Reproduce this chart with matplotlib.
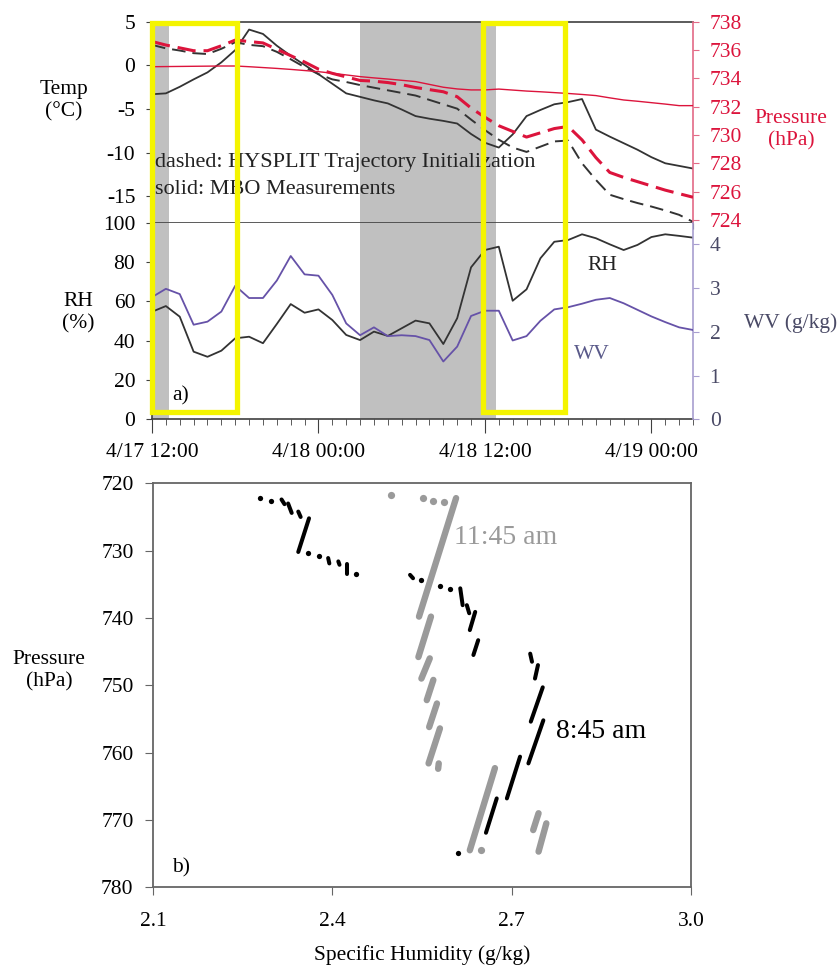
import matplotlib
matplotlib.use('Agg')
import matplotlib.pyplot as plt
from matplotlib.patches import Rectangle
from matplotlib.transforms import blended_transform_factory

plt.rcParams['font.family'] = ['Liberation Serif', 'DejaVu Serif']

# ---------------- data: panel a (hours since 4/17 12:00) ----------------
hours = list(range(40))
temp_mbo = [-3.3, -3.2, -2.45, -1.6, -0.8, 0.35, 1.75, 4.1, 3.6, 2.25, 1.1, 0.05, -1.0, -2.1,
            -3.2, -3.6, -4.0, -4.35, -5.05, -5.8, -6.1, -6.35, -6.65, -7.85, -8.85, -9.4, -7.9,
            -5.8, -5.1, -4.45, -4.2, -3.85, -7.35, -8.15, -8.9, -9.65, -10.5, -11.2, -11.5, -11.8]
temp_hys = [2.35, 1.95, 1.7, 1.4, 1.3, 1.9, 2.65, 2.35, 2.2, 1.55, 0.7, -0.2, -1.0, -1.6,
            -1.9, -2.25, -2.55, -2.85, -3.15, -3.45, -3.95, -4.45, -4.95, -6.2, -7.4, -8.5, -9.4,
            -9.9, -9.3, -8.7, -8.6, -11.2, -13.1, -14.8, -15.3, -15.75, -16.15, -16.6, -17.1, -17.9]
pres_mbo = [734.82, 734.83, 734.84, 734.85, 734.86, 734.87, 734.87, 734.82, 734.76, 734.70,
            734.63, 734.55, 734.47, 734.36, 734.24, 734.12, 734.03, 733.95, 733.86, 733.77,
            733.57, 733.37, 733.25, 733.18, 733.18, 733.24, 733.17, 733.10, 733.05, 732.99,
            732.93, 732.86, 732.78, 732.62, 732.47, 732.38, 732.28, 732.18, 732.07, 732.07]
pres_hys = [736.6, 736.35, 736.15, 735.95, 735.95, 736.3, 736.7, 736.6, 736.5, 736.05, 735.6,
            735.15, 734.65, 734.35, 734.1, 733.85, 733.8, 733.7, 733.55, 733.35, 733.2, 733.05,
            732.7, 731.9, 731.25, 730.65, 730.25, 729.85, 730.15, 730.45, 730.6, 729.65, 728.4,
            727.35, 727.0, 726.7, 726.4, 726.1, 725.85, 725.6]
rh = [54.7, 57.6, 52.2, 34.4, 31.8, 34.9, 41.2, 42.0, 38.7, 48.5, 58.6, 54.2, 55.9, 50.5, 42.9,
      40.3, 44.6, 42.4, 46.3, 50.2, 48.8, 38.3, 51.4, 77.3, 86.1, 87.8, 60.3, 66.1, 81.9, 90.3,
      91.2, 94.1, 92.1, 89.0, 86.1, 88.7, 92.7, 94.1, 93.3, 92.4]
wv = [2.79, 2.98, 2.86, 2.16, 2.23, 2.46, 3.05, 2.77, 2.77, 3.17, 3.73, 3.31, 3.28, 2.84, 2.19,
      1.92, 2.10, 1.90, 1.92, 1.90, 1.81, 1.32, 1.66, 2.36, 2.48, 2.48, 1.80, 1.90, 2.25, 2.51,
      2.56, 2.64, 2.73, 2.77, 2.65, 2.50, 2.35, 2.22, 2.10, 2.04]

time_tick_hours = [0, 12, 24, 36]
time_tick_labels = ['4/17 12:00', '4/18 00:00', '4/18 12:00', '4/19 00:00']
temp_ticks = [-15, -10, -5, 0, 5]
pres_ticks = [724, 726, 728, 730, 732, 734, 736, 738]
rh_ticks = [0, 20, 40, 60, 80, 100]
wv_ticks = [0, 1, 2, 3, 4]

shade_spans = [(0, 1.2), (15.0, 24.8)]
box_spans = [(0, 6.1), (23.83, 29.8)]

# ---------------- data: panel b (specific humidity g/kg, pressure hPa) ----------------
blk_q0 = [2.315, 2.326, 2.343, 2.361, 2.393, 2.410, 2.424, 2.530, 2.614, 2.625, 2.639, 2.644,
          2.731, 2.744, 2.752, 2.753, 2.714, 2.675]
blk_p0 = [722.4, 723.0, 724.2, 725.2, 731.1, 731.6, 732.0, 733.6, 735.6, 738.1, 739.1, 743.3,
          745.3, 747.0, 750.3, 755.2, 760.6, 766.8]
blk_q1 = [2.320, 2.332, 2.347, 2.343, 2.395, 2.412, 2.424, 2.535, 2.618, 2.629, 2.630, 2.636,
          2.734, 2.739, 2.732, 2.728, 2.692, 2.657]
blk_p1 = [723.1, 724.4, 725.0, 730.2, 731.9, 732.1, 733.4, 734.1, 738.1, 739.3, 741.8, 745.5,
          746.5, 749.0, 755.4, 761.6, 766.8, 771.9]
blk_dot_q = [2.279, 2.297, 2.360, 2.377, 2.440, 2.549, 2.580, 2.597, 2.611]
blk_dot_p = [722.2, 722.6, 730.4, 730.8, 733.5, 734.4, 735.2, 735.7, 774.9]

gry_q0 = [2.607, 2.565, 2.563, 2.569, 2.575, 2.580, 2.578, 2.672, 2.745, 2.758]
gry_p0 = [722.2, 739.8, 746.0, 749.2, 752.7, 756.4, 761.6, 762.3, 769.0, 770.5]
gry_q1 = [2.545, 2.544, 2.549, 2.558, 2.562, 2.561, 2.577, 2.630, 2.736, 2.745]
gry_p1 = [739.8, 745.8, 749.0, 752.2, 756.2, 761.6, 762.4, 774.5, 771.5, 774.7]
gry_dot_q = [2.498, 2.552, 2.569, 2.586, 2.649]
gry_dot_p = [721.8, 722.2, 722.6, 722.8, 774.5]

q_ticks = [2.1, 2.4, 2.7, 3.0]
p_ticks = [720, 730, 740, 750, 760, 770, 780]

# ---------------- styling ----------------
W, H = 840, 969
FS = 15.5
RED = '#DC143C'
PURPLE = '#6652A8'
DARK = '#333333'
SPINE = '#404040'
YELLOW = '#F4F400'
SHADE = '#C0C0C0'
GRAY = '#9A9A9A'


def fx(px):
    return px / W


def fy(py):
    return 1 - py / H


fig = plt.figure(figsize=(W / 100, H / 100), dpi=100)

x0, x1 = 152, 693
y_top, y_mid, y_bot = 21.7, 222.7, 419.3
ax_t = fig.add_axes([fx(x0), fy(y_mid), fx(x1) - fx(x0), fy(y_top) - fy(y_mid)])
ax_m = fig.add_axes([fx(x0), fy(y_bot), fx(x1) - fx(x0), fy(y_mid) - fy(y_bot)])
ax_tp = ax_t.twinx()
ax_mw = ax_m.twinx()

for ax in (ax_t, ax_m):
    ax.set_xlim(0, 39)
    for a, b in shade_spans:
        ax.axvspan(a, b, color=SHADE, lw=0, zorder=0)

# temperature
ax_t.plot(hours, temp_mbo, color=DARK, lw=1.3, zorder=3)
ax_t.plot(hours, temp_hys, color=DARK, lw=1.4, ls=(0, (7.0, 3.6)), zorder=3)
ax_t.set_ylim(-18, 5)
ax_t.set_yticks(temp_ticks)
ax_t.set_yticklabels([str(t) for t in temp_ticks])
# pressure
ax_tp.plot(hours, pres_hys, color=RED, lw=2.2, ls=(0, (6.0, 2.6)), zorder=3)
ax_tp.plot(hours, pres_mbo, color=RED, lw=1.0, zorder=3)
ax_tp.set_ylim(723.8, 738)
ax_tp.set_yticks(pres_ticks)
ax_tp.set_xlim(0, 39)

# RH / WV
ax_m.plot(hours, rh, color=DARK, lw=1.3, zorder=3)
ax_m.set_ylim(0, 100)
ax_m.set_yticks(rh_ticks)
ax_mw.plot(hours, wv, color=PURPLE, lw=1.3, zorder=3)
ax_mw.set_ylim(0, 4.49)
ax_mw.set_yticks(wv_ticks)
ax_mw.set_xlim(0, 39)

# spines
for ax in (ax_t, ax_tp, ax_m, ax_mw):
    for s in ax.spines.values():
        s.set_visible(False)
ax_t.spines['top'].set_visible(True)
ax_t.spines['bottom'].set_visible(True)
ax_t.spines['left'].set_visible(True)
ax_tp.spines['right'].set_visible(True)
ax_tp.spines['right'].set_color('#E36A86')
ax_m.spines['left'].set_visible(True)
ax_m.spines['bottom'].set_visible(True)
ax_mw.spines['right'].set_visible(True)
ax_mw.spines['right'].set_color('#A89ED0')
for ax, names in ((ax_t, ('top', 'bottom', 'left')), (ax_m, ('left', 'bottom'))):
    for n in names:
        ax.spines[n].set_color(SPINE)
        ax.spines[n].set_linewidth(1.2)
ax_tp.spines['right'].set_linewidth(1.2)
ax_mw.spines['right'].set_linewidth(1.2)

# ticks
ax_t.set_xticks(hours)
ax_t.tick_params(axis='x', direction='out', length=4, color=SPINE, labelbottom=False)
ax_t.tick_params(axis='y', direction='out', length=4, color=SPINE, labelsize=FS, pad=8)
ax_tp.tick_params(axis='y', direction='out', length=4, color='#E36A86', labelcolor=RED,
                  labelsize=FS, pad=8)
ax_m.set_xticks(time_tick_hours)
ax_m.set_xticklabels(time_tick_labels)
ax_m.set_xticks(hours, minor=True)
ax_m.tick_params(axis='x', which='major', direction='out', length=10, color=SPINE,
                 labelsize=FS, pad=7)
ax_m.tick_params(axis='x', which='minor', direction='out', length=4, color=SPINE)
ax_m.tick_params(axis='y', direction='out', length=4, color=SPINE, labelsize=FS, pad=8)
ax_mw.tick_params(axis='y', direction='out', length=4, color='#A89ED0', labelcolor='#4A4A66',
                  labelsize=FS, pad=8)

# yellow boxes spanning panels a (top and middle)
trans = blended_transform_factory(ax_t.transData, fig.transFigure)
for a, b in box_spans:
    r = Rectangle((a, fy(411.5)), b - a, fy(22.5) - fy(411.5), transform=trans, fill=False,
                  edgecolor=YELLOW, lw=3.8, zorder=20, clip_on=False)
    fig.add_artist(r)

# panel a texts
fig.text(fx(64), fy(101), 'Temp\n(°C)', ha='center', va='center', fontsize=FS, linespacing=1.2)
fig.text(fx(791), fy(130), 'Pressure\n(hPa)', ha='center', va='center', fontsize=FS,
         color=RED, linespacing=1.2)
fig.text(fx(78), fy(313), 'RH\n(%)', ha='center', va='center', fontsize=FS, linespacing=1.2)
fig.text(fx(791), fy(323), 'WV (g/kg)', ha='center', va='center', fontsize=FS, color='#4A4A66')
fig.text(fx(155), fy(163), 'dashed: HYSPLIT Trajectory Initialization', ha='left', va='center',
         fontsize=16, color='#222222')
fig.text(fx(155), fy(190), 'solid: MBO Measurements', ha='left', va='center', fontsize=16,
         color='#222222')
fig.text(fx(602), fy(265), 'RH', ha='center', va='center', fontsize=FS, color='#222222')
fig.text(fx(592), fy(355), 'WV', ha='center', va='center', fontsize=FS, color='#5A5A8A')
fig.text(fx(181), fy(396), 'a)', ha='center', va='center', fontsize=FS)

# ---------------- panel b ----------------
bx0, bx1, by0, by1 = 153, 691, 483.3, 887.3
ax_b = fig.add_axes([fx(bx0), fy(by1), fx(bx1) - fx(bx0), fy(by0) - fy(by1)])
ax_b.set_xlim(2.1, 3.0)
ax_b.set_ylim(780, 720)
for q0, p0, q1, p1 in zip(gry_q0, gry_p0, gry_q1, gry_p1):
    ax_b.plot([q0, q1], [p0, p1], color=GRAY, lw=4.6, solid_capstyle='round', zorder=2)
ax_b.plot(gry_dot_q, gry_dot_p, 'o', color=GRAY, ms=5.2, mew=0, zorder=2)
for q0, p0, q1, p1 in zip(blk_q0, blk_p0, blk_q1, blk_p1):
    ax_b.plot([q0, q1], [p0, p1], color='black', lw=2.9, solid_capstyle='round', zorder=3)
ax_b.plot(blk_dot_q, blk_dot_p, 'o', color='black', ms=3.8, mew=0, zorder=3)

ax_b.set_xticks(q_ticks)
ax_b.set_xticklabels(['%.1f' % q for q in q_ticks])
ax_b.set_yticks(p_ticks)
for s in ax_b.spines.values():
    s.set_color('#666666')
    s.set_linewidth(1.3)
ax_b.tick_params(axis='x', direction='out', length=6, color='#666666', labelsize=FS, pad=12)
ax_b.tick_params(axis='y', direction='out', length=6, color='#666666', labelsize=FS, pad=8)

fig.text(fx(506), fy(538), '11:45 am', ha='center', va='center', fontsize=20, color=GRAY)
fig.text(fx(601), fy(732), '8:45 am', ha='center', va='center', fontsize=20, color='black')
fig.text(fx(181), fy(868), 'b)', ha='center', va='center', fontsize=FS)
fig.text(fx(49), fy(671), 'Pressure\n(hPa)', ha='center', va='center', fontsize=FS,
         linespacing=1.2)
fig.text(fx(422), fy(955), 'Specific Humidity (g/kg)', ha='center', va='center', fontsize=FS)

fig.savefig('out.png', dpi=100)
